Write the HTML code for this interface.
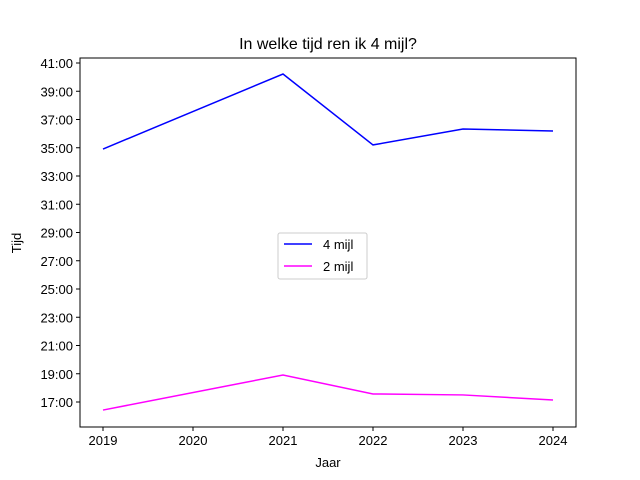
<!DOCTYPE html>
<html><head><meta charset="utf-8"><style>
body{margin:0;background:#fff}
svg{display:block;font-family:"Liberation Sans","DejaVu Sans",sans-serif}
</style></head><body>
<svg id="chart" width="640" height="480">
<rect width="640" height="480" fill="#fff"/>
<text x="328" y="49" font-size="16" text-anchor="middle">In welke tijd ren ik 4 mijl?</text>
<g id="axes"></g>
<rect x="80" y="58" width="496" height="369" fill="none" stroke="#000" stroke-width="1"/>
<text x="328" y="467" font-size="13" text-anchor="middle">Jaar</text>
<text x="21" y="243" font-size="13" text-anchor="middle" transform="rotate(-90 21 243)">Tijd</text>
<g>
<rect x="278" y="233" width="89" height="46" fill="#fff" stroke="#ccc" rx="2"/>
<line x1="284" y1="244" x2="312" y2="244" stroke="blue" stroke-width="1.5"/>
<text x="323" y="249" font-size="13">4 mijl</text>
<line x1="284" y1="266" x2="312" y2="266" stroke="magenta" stroke-width="1.5"/>
<text x="323" y="271" font-size="13">2 mijl</text>
</g>
</svg>
<script>
const years=[2019,2021,2022,2023,2024];
const fourMile=[34.91,40.22,35.2,36.33,36.19];
const twoMile=[16.43,18.91,17.57,17.5,17.14];
const xTicks=[2019,2020,2021,2022,2023,2024];
const yTicks=[17,19,21,23,25,27,29,31,33,35,37,39,41];
const NS="http://www.w3.org/2000/svg";
function xs(v){return 103+(v-2019)*90;}
function ys(v){return 63+(41-v)*14.125;}
const g=document.getElementById('axes');
function mk(t,a){const e=document.createElementNS(NS,t);for(const k in a)e.setAttribute(k,a[k]);g.appendChild(e);return e;}
xTicks.forEach(v=>{
  const l=mk('line',{x1:xs(v),x2:xs(v),y1:427,y2:431,stroke:'#000'});
  
  
  const t=mk('text',{x:xs(v),y:445,'font-size':13,'text-anchor':'middle'});
  t.textContent=v;
  
  
});
yTicks.forEach(v=>{
  const l=mk('line',{x1:76,x2:80,y1:ys(v),y2:ys(v),stroke:'#000'});
  
  
  const t=mk('text',{x:73,y:ys(v)+5,'font-size':13,'text-anchor':'end'});
  t.textContent=v+':00';
  
  
});
function line(vals,color,name){
  const p=mk('polyline',{points:years.map((y,i)=>xs(y)+','+ys(vals[i])).join(' '),fill:'none',stroke:color,'stroke-width':1.5});
  
  
}
line(fourMile,'blue','line-4-mijl');
line(twoMile,'magenta','line-2-mijl');
</script>
</body></html>
